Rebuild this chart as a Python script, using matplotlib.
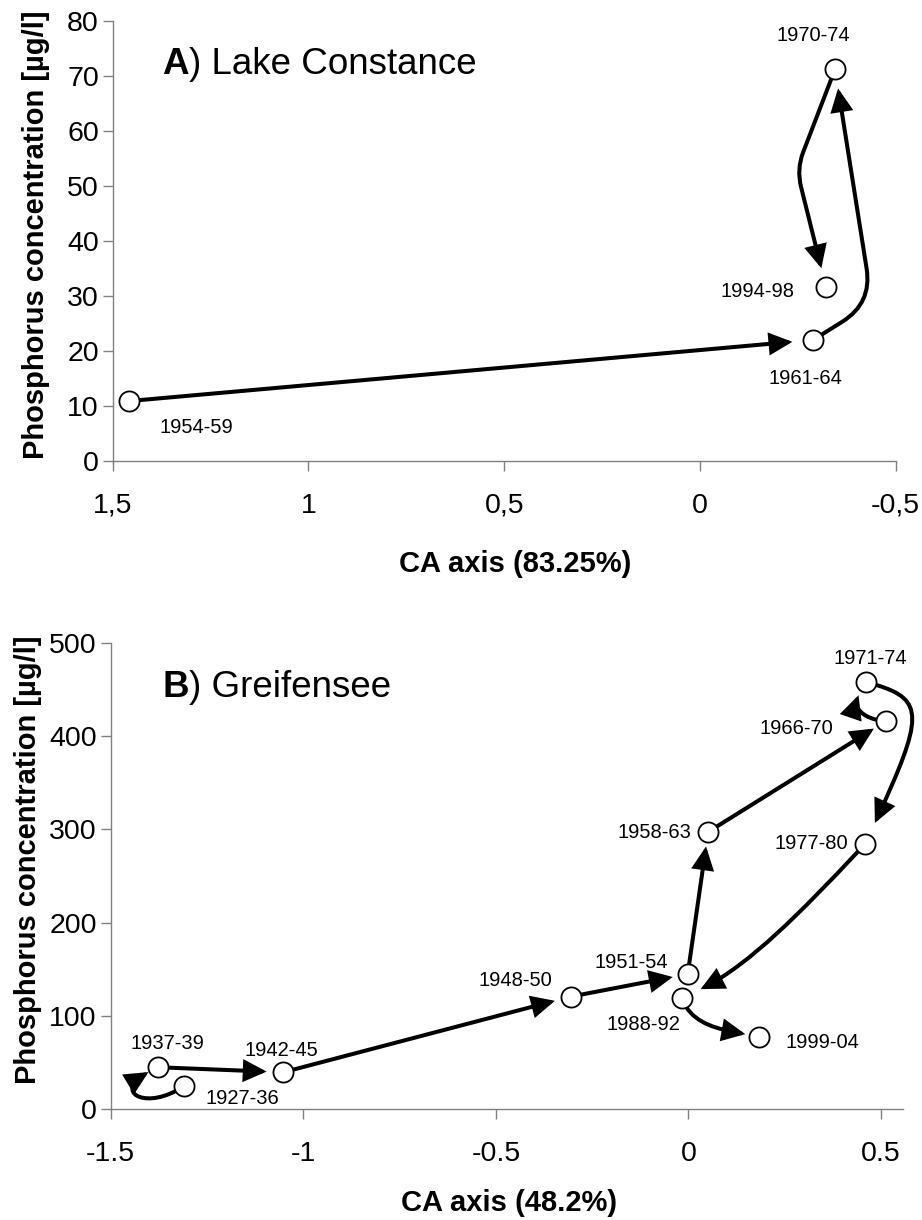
import math
import matplotlib
matplotlib.use("Agg")
import matplotlib.pyplot as plt
from matplotlib.patches import FancyArrowPatch, ArrowStyle, ConnectionStyle
from matplotlib.path import Path

plt.rcParams['font.family'] = ['Liberation Sans', 'DejaVu Sans']

# ---------------- data ----------------
# Panel A: Lake Constance (chronological order)
a_periods = ["1954-59", "1961-64", "1970-74", "1994-98"]
a_ca = [1.458, -0.289, -0.345, -0.322]
a_p = [10.9, 22.0, 71.2, 31.6]
a_xticks = [1.5, 1.0, 0.5, 0.0, -0.5]
a_xticklabels = ["1,5", "1", "0,5", "0", "-0,5"]
a_yticks = [0, 10, 20, 30, 40, 50, 60, 70, 80]

# Panel B: Greifensee (chronological order)
b_periods = ["1927-36", "1937-39", "1942-45", "1948-50", "1951-54", "1958-63",
             "1966-70", "1971-74", "1977-80", "1988-92", "1999-04"]
b_ca = [-1.309, -1.378, -1.052, -0.305, -0.002, 0.051, 0.512, 0.462, 0.459, -0.018, 0.183]
b_p = [25.0, 44.8, 39.4, 120.6, 144.7, 297.2, 416.0, 457.9, 284.6, 119.6, 77.7]
b_xticks = [-1.5, -1.0, -0.5, 0.0, 0.5]
b_xticklabels = ["-1.5", "-1", "-0.5", "0", "0.5"]
b_yticks = [0, 100, 200, 300, 400, 500]

# ---------------- styles ----------------
class Cubic(ConnectionStyle._Base):
    """Cubic Bezier connector: tangents leave A at angleA and B at angleB (display px)."""
    def __init__(self, angleA, lenA, angleB, lenB):
        self.angleA, self.lenA, self.angleB, self.lenB = angleA, lenA, angleB, lenB

    def connect(self, posA, posB):
        x1, y1 = posA
        x2, y2 = posB
        aA = math.radians(self.angleA)
        aB = math.radians(self.angleB)
        c1 = (x1 + self.lenA * math.cos(aA), y1 + self.lenA * math.sin(aA))
        c2 = (x2 + self.lenB * math.cos(aB), y2 + self.lenB * math.sin(aB))
        return Path([(x1, y1), c1, c2, (x2, y2)],
                    [Path.MOVETO, Path.CURVE4, Path.CURVE4, Path.CURVE4])

STRAIGHT = "arc3,rad=0"
# connector style and end shrink (pt) for each consecutive segment
a_conn = [(STRAIGHT, 15),
          (ConnectionStyle.Angle(angleA=32, angleB=-81, rad=35), 14),
          (ConnectionStyle.Angle(angleA=-111, angleB=104, rad=18), 14)]
b_conn = [(Cubic(215, 48, 205, 55), 7.5),
          (STRAIGHT, 12),
          (STRAIGHT, 12),
          (STRAIGHT, 11),
          (STRAIGHT, 10.5),
          (STRAIGHT, 10),
          (Cubic(175, 25, 230, 30), 11),
          (Cubic(-15, 64, 65, 145), 16.5),
          (Cubic(227, 100, 20, 60), 15),
          (Cubic(-70, 30, 170, 40), 10)]

a_label_off = [(48.7, -18.7), (-5.8, -27.4), (-16, 24.5), (-49, -3.4)]
b_label_off = [(41.8, -9.1), (6.9, 17.3), (-1.2, 16), (-39.7, 11.3), (-40.8, 8.4),
               (-38.9, -0.7), (-64.3, -5.5), (2.9, 16.8), (-38.9, 0), (-27.1, -19.7), (46, -4.3)]

GRAY = "#808080"
TICK_FS = 20.5
LABEL_FS = 21
ANN_FS = 14.5
TITLE_FS = 26.5

fig = plt.figure(figsize=(9.22, 12.2), dpi=100)
fig.patch.set_facecolor("white")

ax_a = fig.add_axes([0.1222, 0.6221, 0.9715 - 0.1222, 0.983 - 0.6221])
ax_b = fig.add_axes([0.1201, 0.0910, 0.9794 - 0.1201, 0.473 - 0.0910])


def draw_panel(ax, xs, ys, names, conns, offs, xlim, ylim, xticks, xticklabels,
               yticks, xlabel, letter, title, title_pos, xlabel_pos, ylabel_pos):
    ax.set_xlim(*xlim)
    ax.set_ylim(*ylim)
    for s in ("top", "right"):
        ax.spines[s].set_visible(False)
    for s in ("left", "bottom"):
        ax.spines[s].set_color(GRAY)
        ax.spines[s].set_linewidth(1.0)
    ax.set_xticks(xticks)
    ax.set_xticklabels(xticklabels)
    ax.set_yticks(yticks)
    ax.tick_params(axis="both", direction="out", length=7, width=1.0, color=GRAY,
                   labelsize=TICK_FS, labelcolor="black")
    ax.tick_params(axis="x", pad=16)
    ax.tick_params(axis="y", pad=3)
    ax.set_xlabel(xlabel, fontsize=LABEL_FS, fontweight="bold")
    ax.set_ylabel("Phosphorus concentration [µg/l]", fontsize=LABEL_FS, fontweight="bold")
    ax.xaxis.set_label_coords(*xlabel_pos)
    ax.yaxis.set_label_coords(*ylabel_pos)

    # arrows between consecutive periods
    for i, (conn, shrB) in enumerate(conns):
        arr = FancyArrowPatch((xs[i], ys[i]), (xs[i + 1], ys[i + 1]),
                              connectionstyle=conn,
                              arrowstyle=ArrowStyle("-|>", head_length=0.62, head_width=0.3),
                              mutation_scale=20, lw=2.9, color="black",
                              shrinkA=7.5, shrinkB=shrB, joinstyle="miter", zorder=2,
                              clip_on=False)
        ax.add_patch(arr)

    ax.plot(xs, ys, linestyle="none", marker="o", markersize=14.5,
            markerfacecolor="white", markeredgecolor="black", markeredgewidth=1.3,
            zorder=3, clip_on=False)

    for x, y, n, off in zip(xs, ys, names, offs):
        ax.annotate(n, xy=(x, y), xytext=off, textcoords="offset points",
                    ha="center", va="center", fontsize=ANN_FS, zorder=4)

    t1 = ax.text(title_pos[0], title_pos[1], letter, transform=ax.transAxes,
                 fontsize=TITLE_FS, fontweight="bold", ha="left", va="bottom")
    ax.annotate(title, xy=(1, 0), xycoords=t1, ha="left", va="bottom",
                fontsize=TITLE_FS)


draw_panel(ax_a, a_ca, a_p, a_periods, a_conn, a_label_off,
           (1.5, -0.5), (0, 80), a_xticks, a_xticklabels, a_yticks,
           "CA axis (83.25%)", "A", ") Lake Constance", (0.063, 0.860),
           (0.514, -0.203), (-0.080, 0.513))

draw_panel(ax_b, b_ca, b_p, b_periods, b_conn, b_label_off,
           (-1.5, 0.557), (0, 500), b_xticks, b_xticklabels, b_yticks,
           "CA axis (48.2%)", "B", ") Greifensee", (0.065, 0.866),
           (0.503, -0.172), (-0.087, 0.534))

for ax in (ax_a, ax_b):
    ax.yaxis.label.set_va("bottom")
    ax.xaxis.label.set_va("top")

fig.savefig("out.png", dpi=100, facecolor="white")
